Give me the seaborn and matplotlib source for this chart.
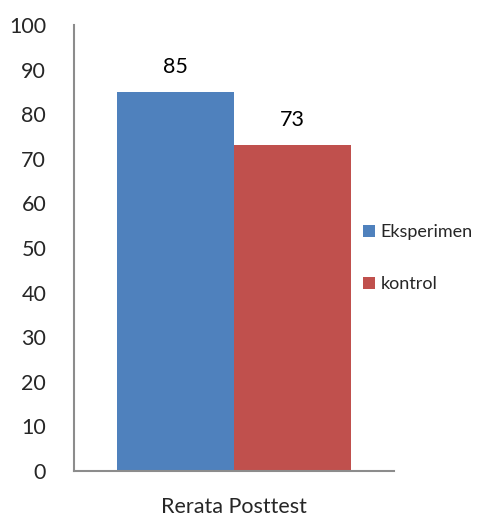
import matplotlib
matplotlib.use("Agg")
import matplotlib.pyplot as plt
import seaborn as sns
import pandas as pd
from matplotlib.patches import Patch

categories = ["Rerata Posttest"]
groups = ["Eksperimen", "kontrol"]
values = [85, 73]
colors = ["#4F81BD", "#C0504D"]
yticks = [0, 10, 20, 30, 40, 50, 60, 70, 80, 90, 100]

sns.set_style("white")
plt.rcParams["font.family"] = ["Lato", "DejaVu Sans"]

df = pd.DataFrame({"kategori": categories * len(groups), "kelompok": groups, "nilai": values})

fig = plt.figure(figsize=(4.79, 5.17), dpi=100)
ax = fig.add_axes([74 / 479, 1 - 471 / 517, 320 / 479, 446 / 517])

sns.barplot(data=df, x="kategori", y="nilai", hue="kelompok", palette=colors,
            width=0.8, saturation=1, ax=ax, legend=False,
            edgecolor="none", linewidth=0)

for cont in ax.containers:
    ax.bar_label(cont, fmt="%g", padding=11, fontsize=15.5, color="#000000")

ax.set_ylim(0, 100)
ax.set_xlim(-0.547, 0.547)
ax.set_yticks(yticks)
ax.set_yticklabels([str(t) for t in yticks], fontsize=15.5)
ax.tick_params(axis="y", length=0, pad=20)
ax.tick_params(axis="x", length=0, pad=19, labelsize=15.5)
ax.set_xlabel("")
ax.set_ylabel("")

for side in ["top", "right"]:
    ax.spines[side].set_visible(False)
for side in ["left", "bottom"]:
    ax.spines[side].set_color("#8C8C8C")
    ax.spines[side].set_linewidth(1.5)

handles = [Patch(facecolor=c, edgecolor="none") for c in colors]
fig.legend(handles, groups, loc="center left", bbox_to_anchor=(356 / 479, 1 - 258 / 517),
           frameon=False, fontsize=13, handlelength=0.65, handleheight=0.65,
           handletextpad=0.3, labelspacing=2.0, borderaxespad=0)

fig.savefig("out.png", dpi=100)
